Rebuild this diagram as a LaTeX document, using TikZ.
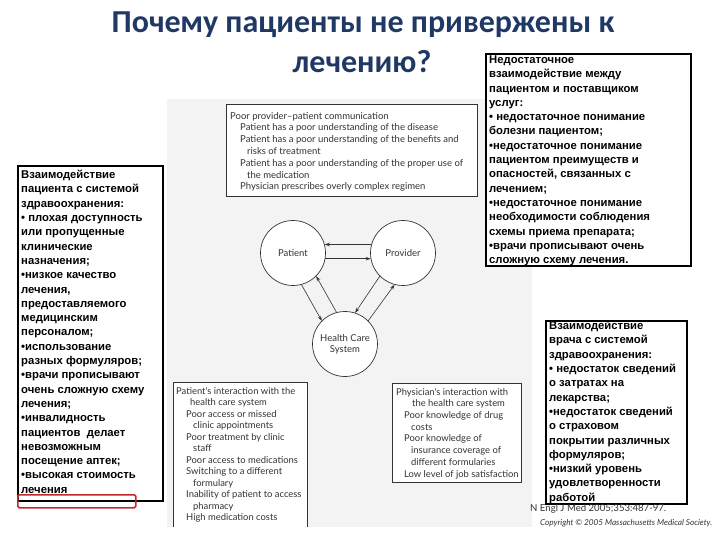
\documentclass[tikz,border=0pt]{standalone}
\usepackage{fontspec}
\setmainfont{Liberation Sans}
\newfontfamily\titlefont{Carlito}
\newfontfamily\rufont{Liberation Sans}
\newfontfamily\nejm{Lato}
\usetikzlibrary{arrows.meta}
\definecolor{titleblue}{HTML}{1F3864}
\definecolor{figbg}{HTML}{F3F3F3}
\definecolor{nejmline}{HTML}{333333}
\definecolor{redbox}{HTML}{C0282D}
\begin{document}
\begin{tikzpicture}[x=1pt,y=-1pt,
 title/.style={font=\titlefont\bfseries\fontsize{32}{36}\selectfont, text=titleblue, inner sep=0},
 rubox/.style={draw=black, line width=1.8pt, fill=white, inner sep=0, anchor=north west},
 rutext/.style={font=\rufont\bfseries\fontsize{11.3}{14.3}\selectfont, align=left, inner sep=0, anchor=north west},
 fbox/.style={draw=nejmline, line width=0.7pt, fill=white, inner sep=0, anchor=north west},
 ftext/.style={font=\nejm\fontsize{9.5}{11.8}\selectfont, text=nejmline, align=left, inner sep=0, anchor=north west},
 circ/.style={circle, draw=nejmline, line width=0.7pt, fill=white, minimum size=65pt, inner sep=0, font=\nejm\fontsize{9.5}{11}\selectfont, text=nejmline, align=center},
 arr/.style={-{Stealth[length=5pt,width=3.5pt]}, draw=nejmline, line width=0.6pt}
]
\useasboundingbox (0,0) rectangle (720,540);

% title
\node[title] (t1) at (363,25) {Почему пациенты не привержены к};
\node[title] (t2) at (362,62) {лечению?};

% NEJM figure background
\fill[figbg] (167,99) rectangle (532,527);

% top provider-patient box
\node[fbox, minimum width=251pt, minimum height=92pt] (pp) at (226,104) {};
\node[ftext] (ppt) at (230,112) {Poor provider–patient communication\\
\hspace*{10pt}Patient has a poor understanding of the disease\\
\hspace*{10pt}Patient has a poor understanding of the benefits and\\
\hspace*{17pt}risks of treatment\\
\hspace*{10pt}Patient has a poor understanding of the proper use of\\
\hspace*{17pt}the medication\\
\hspace*{10pt}Physician prescribes overly complex regimen};

% circles
\node[circ] (pat) at (293,253) {Patient};
\node[circ] (prov) at (403,253) {Provider};
\node[circ] (hcs) at (345,344) {Health Care\\System};

\draw[arr] (pat.-10) -- (prov.190);
\draw[arr] (prov.165) -- (pat.15);
\draw[arr] (pat.-75) -- (hcs.135);
\draw[arr] (hcs.105) -- (pat.-45);
\draw[arr] (prov.-135) -- (hcs.72);
\draw[arr] (hcs.45) -- (prov.-105);

% patient's interaction box (open at bottom)
\node[fill=white, inner sep=0, anchor=north west, minimum width=134pt, minimum height=145pt] (pib) at (173,382) {};
\draw[nejmline, line width=0.7pt] (pib.south west) |- (pib.north east) -- (pib.south east);
\node[ftext, font=\nejm\fontsize{9.4}{11.5}\selectfont] (pibt) at (176,387) {Patient's interaction with the\\
\hspace*{14pt}health care system\\
\hspace*{10pt}Poor access or missed\\
\hspace*{17pt}clinic appointments\\
\hspace*{10pt}Poor treatment by clinic\\
\hspace*{17pt}staff\\
\hspace*{10pt}Poor access to medications\\
\hspace*{10pt}Switching to a different\\
\hspace*{17pt}formulary\\
\hspace*{10pt}Inability of patient to access\\
\hspace*{17pt}pharmacy\\
\hspace*{10pt}High medication costs};

% physician's interaction box
\node[fbox, minimum width=129pt, minimum height=99pt] (phb) at (392,383) {};
\node[ftext, font=\nejm\fontsize{9.4}{11.7}\selectfont] (phbt) at (396,388) {Physician's interaction with\\
\hspace*{16pt}the health care system\\
\hspace*{8pt}Poor knowledge of drug\\
\hspace*{15pt}costs\\
\hspace*{8pt}Poor knowledge of\\
\hspace*{15pt}insurance coverage of\\
\hspace*{15pt}different formularies\\
\hspace*{8pt}Low level of job satisfaction};

% Russian boxes
\node[rubox, minimum width=205pt, minimum height=212pt] (rb1) at (485,53) {};
\node[rutext] (rb1t) at (489,55.5) {Недостаточное\\
взаимодействие между\\
пациентом и поставщиком\\
услуг:\\
• недостаточное понимание\\
болезни пациентом;\\
•недостаточное понимание\\
пациентом преимуществ и\\
опасностей, связанных с\\
лечением;\\
•недостаточное понимание\\
необходимости соблюдения\\
схемы приема препарата;\\
•врачи прописывают очень\\
сложную схему лечения.};

\node[rubox, minimum width=145pt, minimum height=335pt] (rb2) at (17,165) {};
\node[rutext] (rb2t) at (21,170) {Взаимодействие\\
пациента с системой\\
здравоохранения:\\
• плохая доступность\\
или пропущенные\\
клинические\\
назначения;\\
•низкое качество\\
лечения,\\
предоставляемого\\
медицинским\\
персоналом;\\
•использование\\
разных формуляров;\\
•врачи прописывают\\
очень сложную схему\\
лечения;\\
•инвалидность\\
пациентов\ \ делает\\
невозможным\\
посещение аптек;\\
•высокая стоимость\\
лечения};

\node[rubox, minimum width=141pt, minimum height=183pt] (rb3) at (545,320) {};
\node[rutext] (rb3t) at (549,321) {Взаимодействие\\
врача с системой\\
здравоохранения:\\
• недостаток сведений\\
о затратах на\\
лекарства;\\
•недостаток сведений\\
о страховом\\
покрытии различных\\
формуляров;\\
•низкий уровень\\
удовлетворенности\\
работой};

% citation
\node[anchor=west, inner sep=0, font=\nejm\fontsize{9.6}{11}\selectfont, text=nejmline] (cit) at (530,509) {N Engl J Med 2005;353:487-97.};
\node[anchor=west, inner sep=0, font=\nejm\itshape\fontsize{8.2}{9}\selectfont, text=nejmline] (copy) at (540,523) {Copyright © 2005 Massachusetts Medical Society.};

% red highlight
\node[draw=redbox, line width=1.5pt, rounded corners=1.5pt, inner sep=0, anchor=north west, minimum width=118pt, minimum height=13pt] (red) at (17,494) {};
\end{tikzpicture}
\end{document}
